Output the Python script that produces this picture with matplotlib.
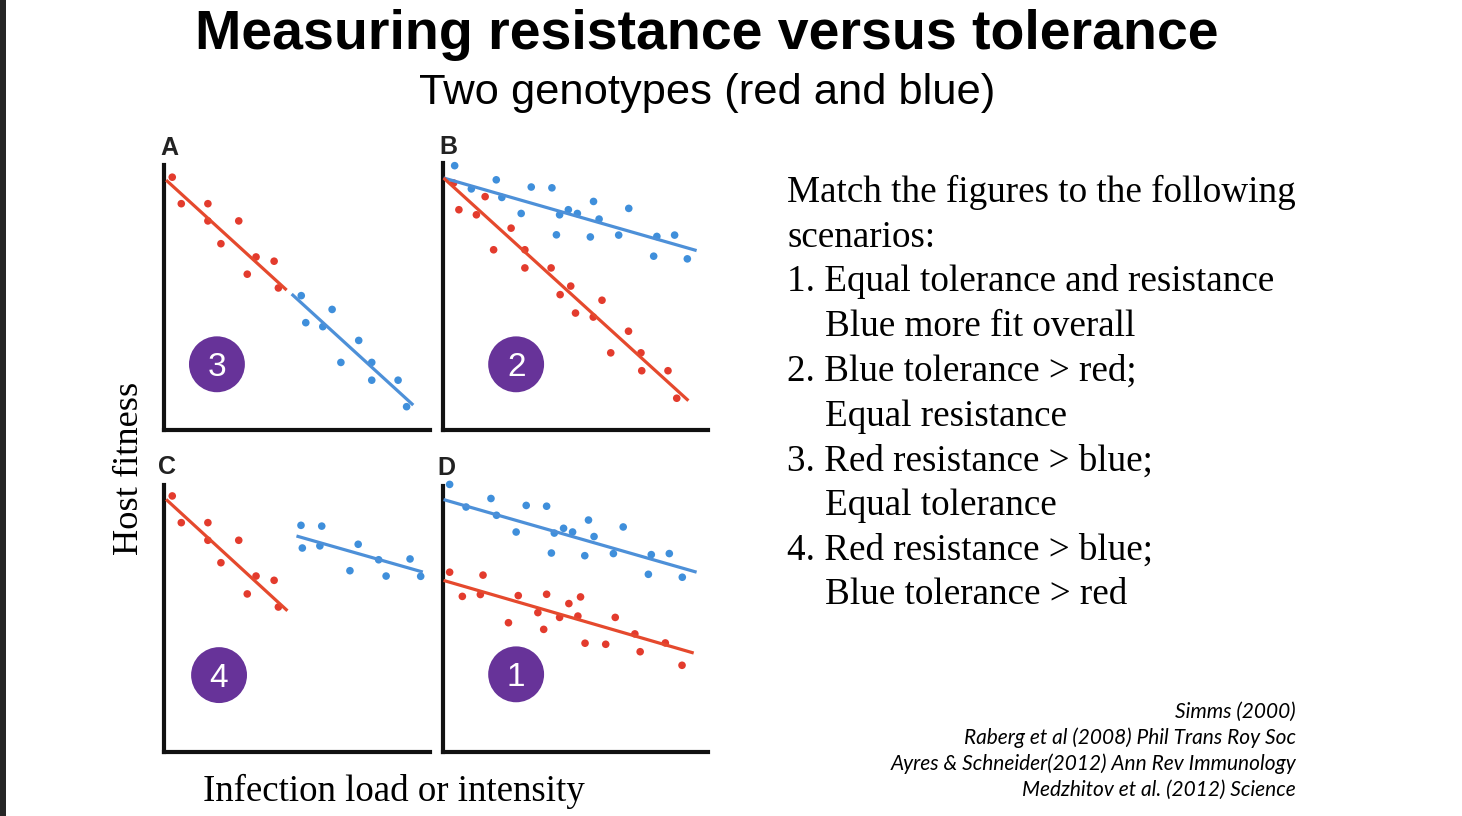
import matplotlib
matplotlib.use("Agg")
import matplotlib.pyplot as plt
from matplotlib.patches import Rectangle

# ---------------- data ----------------
# Panel A
a_red_x = [0.31, 0.65, 1.65, 1.65, 2.81, 2.14, 3.46, 4.14, 3.13, 4.30]
a_red_y = [9.54, 8.54, 8.54, 7.89, 7.89, 7.03, 6.53, 6.37, 5.88, 5.36]
a_blue_x = [5.16, 6.32, 5.33, 5.97, 7.32, 6.65, 7.81, 7.81, 8.80, 9.12]
a_blue_y = [5.07, 4.55, 4.05, 3.90, 3.38, 2.55, 2.55, 1.88, 1.88, 0.88]
a_red_line_x, a_red_line_y = [0.08, 4.61], [9.43, 5.28]
a_blue_line_x, a_blue_line_y = [4.80, 9.37], [5.13, 0.94]

# Panel B
b_blue_x = [0.44, 1.07, 2.01, 2.22, 3.33, 4.11, 2.95, 4.40, 4.73, 5.07,
            5.68, 5.89, 4.28, 5.56, 6.63, 7.01, 8.07, 8.74, 7.95, 9.22]
b_blue_y = [9.90, 9.03, 9.37, 8.71, 9.10, 9.07, 8.11, 8.06, 8.25, 8.11,
            8.56, 7.90, 7.31, 7.23, 7.30, 8.30, 7.25, 7.30, 6.51, 6.41]
b_red_x = [0.40, 0.60, 1.26, 1.59, 1.91, 2.57, 3.09, 3.09, 4.08, 4.42,
           4.82, 5.00, 5.67, 6.00, 6.33, 7.00, 7.47, 7.50, 8.49, 8.82]
b_red_y = [9.25, 8.25, 8.06, 8.74, 6.75, 7.56, 6.75, 6.07, 6.07, 5.07,
           5.39, 4.38, 4.23, 4.86, 2.89, 3.70, 2.89, 2.22, 2.22, 1.19]
b_blue_line_x, b_blue_line_y = [0.02, 9.57], [9.44, 6.72]
b_red_line_x, b_red_line_y = [0.02, 9.26], [9.44, 1.10]

# Panel C
c_red_x = [0.31, 0.65, 1.65, 1.65, 2.81, 2.14, 3.46, 4.14, 3.13, 4.30]
c_red_y = [9.59, 8.59, 8.59, 7.93, 7.93, 7.09, 6.59, 6.43, 5.92, 5.43]
c_blue_x = [5.15, 5.93, 5.20, 5.86, 7.30, 6.99, 8.07, 8.35, 9.25, 9.65]
c_blue_y = [8.49, 8.46, 7.64, 7.72, 7.78, 6.79, 7.20, 6.59, 7.23, 6.58]
c_red_line_x, c_red_line_y = [0.08, 4.64], [9.46, 5.29]
c_blue_line_x, c_blue_line_y = [4.98, 9.73], [8.09, 6.74]

# Panel D
d_blue_x = [0.25, 0.87, 1.81, 2.02, 3.14, 3.91, 2.76, 4.20, 4.55, 4.89,
            5.49, 5.70, 4.09, 5.35, 6.43, 6.80, 7.86, 8.54, 7.75, 9.03]
d_blue_y = [10.06, 9.21, 9.53, 8.90, 9.27, 9.24, 8.27, 8.23, 8.41, 8.27,
            8.72, 8.10, 7.48, 7.38, 7.46, 8.46, 7.42, 7.46, 6.68, 6.57]
d_red_x = [0.25, 0.73, 1.51, 1.41, 2.47, 2.84, 3.58, 3.91, 3.80, 4.40,
           4.75, 5.19, 5.09, 5.36, 6.14, 6.50, 7.24, 7.44, 8.39, 9.02]
d_red_y = [6.76, 5.85, 6.65, 5.92, 4.86, 5.88, 5.24, 5.93, 4.61, 5.06,
           5.58, 5.83, 5.11, 4.09, 4.05, 5.06, 4.44, 3.77, 4.10, 3.26]
d_blue_line_x, d_blue_line_y = [0.02, 9.57], [9.49, 6.76]
d_red_line_x, d_red_line_y = [0.02, 9.46], [6.45, 3.72]

panel_letters = ["A", "B", "C", "D"]
badge_labels = ["3", "2", "4", "1"]
badge_x = [1.99, 2.76, 2.07, 2.76]
badge_y = [2.48, 2.46, 2.88, 2.92]

title = "Measuring resistance versus tolerance"
subtitle = "Two genotypes (red and blue)"
scenario_lines = [
    ("Match the figures to the following", 0),
    ("scenarios:", 0),
    ("1. Equal tolerance and resistance", 0),
    ("Blue more fit overall", 1),
    ("2. Blue tolerance > red;", 0),
    ("Equal resistance", 1),
    ("3. Red resistance > blue;", 0),
    ("Equal tolerance", 1),
    ("4. Red resistance > blue;", 0),
    ("Blue tolerance > red", 1),
]
references = [
    "Simms (2000)",
    "Raberg et al (2008) Phil Trans Roy Soc",
    "Ayres & Schneider(2012) Ann Rev Immunology",
    "Medzhitov et al. (2012) Science",
]
ylabel = "Host fitness"
xlabel = "Infection load or intensity"

# ---------------- style ----------------
W, H = 1462, 816
RED_PT, RED_LN = "#e33b2d", "#e5492d"
BLUE_PT, BLUE_LN = "#3f8fdb", "#4d90d8"
PURPLE = "#673399"

fig = plt.figure(figsize=(W / 100, H / 100), dpi=100)
fig.patch.set_facecolor("white")


def fx(px):
    return px / W


def fy(py):
    return 1 - py / H


# dark strip on the left edge
fig.patches.append(Rectangle((0, 0), fx(6), 1, transform=fig.transFigure,
                             facecolor="#262626", edgecolor="none"))

# panel boxes in pixels: (left, top, right, bottom)
boxes = [(164, 165, 430, 430), (443, 163, 708, 430),
         (164, 485, 430, 752), (443, 486, 708, 752)]

panels = [
    dict(series=[(a_red_x, a_red_y, RED_PT), (a_blue_x, a_blue_y, BLUE_PT)],
         lines=[(a_red_line_x, a_red_line_y, RED_LN), (a_blue_line_x, a_blue_line_y, BLUE_LN)]),
    dict(series=[(b_blue_x, b_blue_y, BLUE_PT), (b_red_x, b_red_y, RED_PT)],
         lines=[(b_blue_line_x, b_blue_line_y, BLUE_LN), (b_red_line_x, b_red_line_y, RED_LN)]),
    dict(series=[(c_red_x, c_red_y, RED_PT), (c_blue_x, c_blue_y, BLUE_PT)],
         lines=[(c_red_line_x, c_red_line_y, RED_LN), (c_blue_line_x, c_blue_line_y, BLUE_LN)]),
    dict(series=[(d_blue_x, d_blue_y, BLUE_PT), (d_red_x, d_red_y, RED_PT)],
         lines=[(d_blue_line_x, d_blue_line_y, BLUE_LN), (d_red_line_x, d_red_line_y, RED_LN)]),
]

letter_pos = [(160, 155), (439, 154), (158, 474), (437, 475)]

for i, (box, p) in enumerate(zip(boxes, panels)):
    l, t, r, b = box
    ax = fig.add_axes([fx(l), fy(b), (r - l) / W, (b - t) / H])
    ax.set_xlim(0, 10)
    ax.set_ylim(0, 10)
    ax.set_facecolor("none")
    for s in ["top", "right"]:
        ax.spines[s].set_visible(False)
    for s in ["left", "bottom"]:
        ax.spines[s].set_linewidth(3.0)
        ax.spines[s].set_color("#111111")
        ax.spines[s].set_capstyle("projecting")
    ax.set_xticks([])
    ax.set_yticks([])
    for xs, ys, c in p["series"]:
        ax.scatter(xs, ys, s=30, color=c, edgecolors="none", zorder=3, clip_on=False)
    for xs, ys, c in p["lines"]:
        ax.plot(xs, ys, color=c, lw=2.3, zorder=4, solid_capstyle="butt", clip_on=False)
    ax.scatter([badge_x[i]], [badge_y[i]], s=1620, color=PURPLE, edgecolors="none",
               zorder=5, clip_on=False)
    ax.text(badge_x[i], badge_y[i], badge_labels[i], color="white", fontsize=24,
            family="Liberation Sans", ha="center", va="center_baseline", zorder=6)
    lx, ly = letter_pos[i]
    fig.text(fx(lx), fy(ly), panel_letters[i], fontsize=18, fontweight="bold",
             family="Liberation Sans", color="#222222", ha="left", va="baseline")

# titles
fig.text(fx(706.5), fy(49), title, fontsize=40, fontweight="bold",
         family="Liberation Sans", ha="center", va="baseline", color="black")
fig.text(fx(707.5), fy(104), subtitle, fontsize=31.3,
         family="Liberation Sans", ha="center", va="baseline", color="black")

# scenario text
for k, (txt, indent) in enumerate(scenario_lines):
    x = 825 if indent else 787
    fig.text(fx(x), fy(202 + 44.7 * k), txt, fontsize=26.7,
             family="Liberation Serif", ha="left", va="baseline", color="black")

# axis labels
fig.text(fx(138), fy(468.5), ylabel, fontsize=26.2, family="Liberation Serif",
         rotation=90, ha="center", va="baseline", rotation_mode="anchor", color="black")
fig.text(fx(393.5), fy(801), xlabel, fontsize=26.6, family="Liberation Serif",
         ha="center", va="baseline", color="black")

# references
for k, ref in enumerate(references):
    fig.text(fx(1296), fy(718 + 26 * k), ref, fontsize=15, family="Lato",
             style="italic", ha="right", va="baseline", color="black")

fig.savefig("out.png", dpi=100, facecolor="white")
